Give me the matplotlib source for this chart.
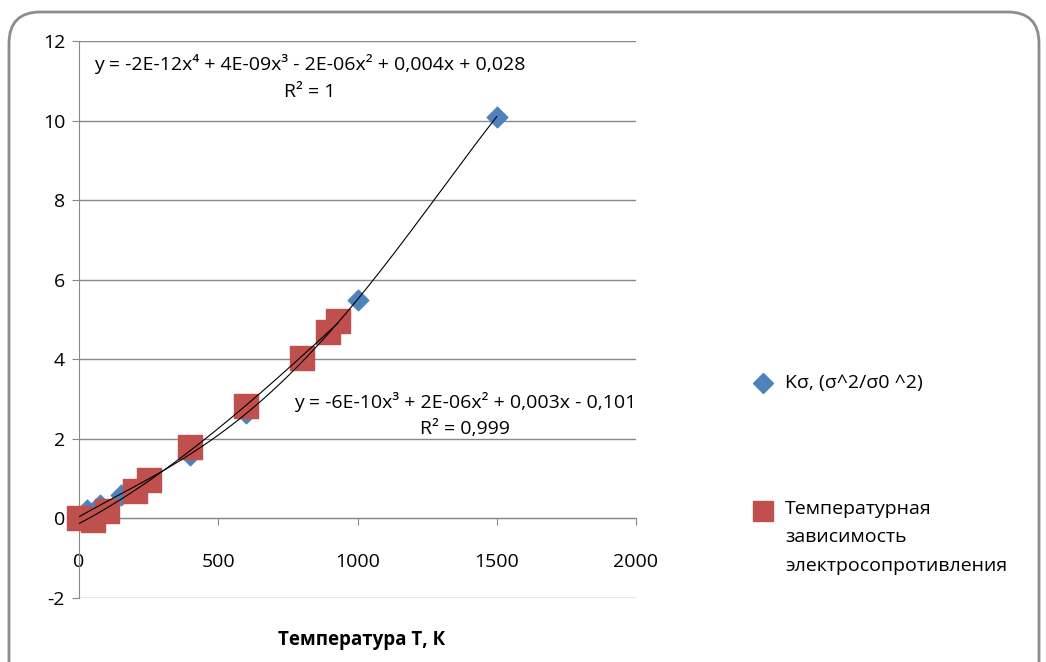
import matplotlib
matplotlib.use('Agg')
import matplotlib.pyplot as plt
from matplotlib.patches import FancyBboxPatch
from matplotlib.lines import Line2D
import numpy as np

plt.rcParams['font.family'] = ['Open Sans', 'DejaVu Sans']
plt.rcParams['axes.unicode_minus'] = False

# data
t_k = [0, 30, 75, 150, 400, 600, 1000, 1500]
k_sigma = [0.0, 0.2, 0.35, 0.6, 1.6, 2.65, 5.5, 10.1]

t_rho = [0, 50, 100, 200, 250, 400, 600, 800, 895, 930]
k_rho = [0.0, -0.05, 0.18, 0.7, 0.96, 1.8, 2.82, 4.02, 4.68, 4.95]

label_sigma = 'Kσ, (σ^2/σ0 ^2)'
label_rho = 'Температурная\nзависимость\nэлектросопротивления'
eq_sigma = 'y = -2E-12x⁴ + 4E-09x³ - 2E-06x² + 0,004x + 0,028'
r2_sigma = 'R² = 1'
eq_rho = 'y = -6E-10x³ + 2E-06x² + 0,003x - 0,101'
r2_rho = 'R² = 0,999'

blue = '#4F81BD'
red = '#C0504D'
grid_c = '#888888'
W, H = 1046, 662

fig = plt.figure(figsize=(W / 100, H / 100), dpi=100)
ax = fig.add_axes([79 / W, 1 - 598 / H, (636 - 79) / W, (598 - 41) / H])

ax.scatter(t_k, k_sigma, marker='D', s=110, color=blue, zorder=3, clip_on=False)
ax.scatter(t_rho, k_rho, marker='s', s=290, color=red, zorder=4, clip_on=False)

# polynomial trend lines
p4 = np.polyfit(t_k, k_sigma, 4)
xs = np.linspace(min(t_k), max(t_k), 300)
ax.plot(xs, np.polyval(p4, xs), color='black', lw=0.8, zorder=5)
p3 = np.polyfit(t_rho, k_rho, 3)
xr = np.linspace(min(t_rho), max(t_rho), 300)
ax.plot(xr, np.polyval(p3, xr), color='black', lw=0.8, zorder=5)

ax.set_xlim(0, 2000)
ax.set_ylim(-2, 12)
ax.set_xticks([0, 500, 1000, 1500, 2000])
ax.set_yticks(range(-2, 13, 2))
ax.yaxis.grid(True, color=grid_c, lw=1)
ax.set_axisbelow(True)

for s in ['top', 'right']:
    ax.spines[s].set_visible(False)
ax.spines['bottom'].set_position(('data', 0))
ax.spines['bottom'].set_color(grid_c)
ax.spines['left'].set_color(grid_c)
ax.tick_params(axis='both', colors=grid_c, labelcolor='black', labelsize=14, length=5)
ax.tick_params(axis='y', pad=5)
ax.tick_params(axis='x', pad=20)

fs = 14
ax.text(829, 11.42, eq_sigma, ha='center', va='center', fontsize=fs)
ax.text(829, 10.72, r2_sigma, ha='center', va='center', fontsize=fs)
ax.text(1386, 2.92, eq_rho, ha='center', va='center', fontsize=fs)
ax.text(1386, 2.26, r2_rho, ha='center', va='center', fontsize=fs)

fig.text(362 / W, 1 - 640 / H, 'Температура Т, К', ha='center', va='center',
         fontsize=13.5, fontweight='bold')

# legend drawn by hand so the square sits on the first text line
fig.add_artist(Line2D([763 / W], [1 - 383 / H], marker='D', markersize=10,
                      color=blue, linestyle='none', transform=fig.transFigure))
fig.text(785 / W, 1 - 383 / H, label_sigma, ha='left', va='center', fontsize=fs)
fig.add_artist(Line2D([763 / W], [1 - 511 / H], marker='s', markersize=14,
                      color=red, linestyle='none', transform=fig.transFigure))
fig.text(785 / W, 1 - 500 / H, label_rho, ha='left', va='top', fontsize=fs,
         linespacing=1.75)

border = FancyBboxPatch((9 / W, -0.1), 1030 / W, 1.1 - 12 / H,
                        boxstyle='round,pad=0,rounding_size=0.03', transform=fig.transFigure,
                        facecolor='none', edgecolor='#8c8c8c', lw=2, mutation_aspect=1.58)
fig.add_artist(border)

fig.savefig('out.png', dpi=100)
